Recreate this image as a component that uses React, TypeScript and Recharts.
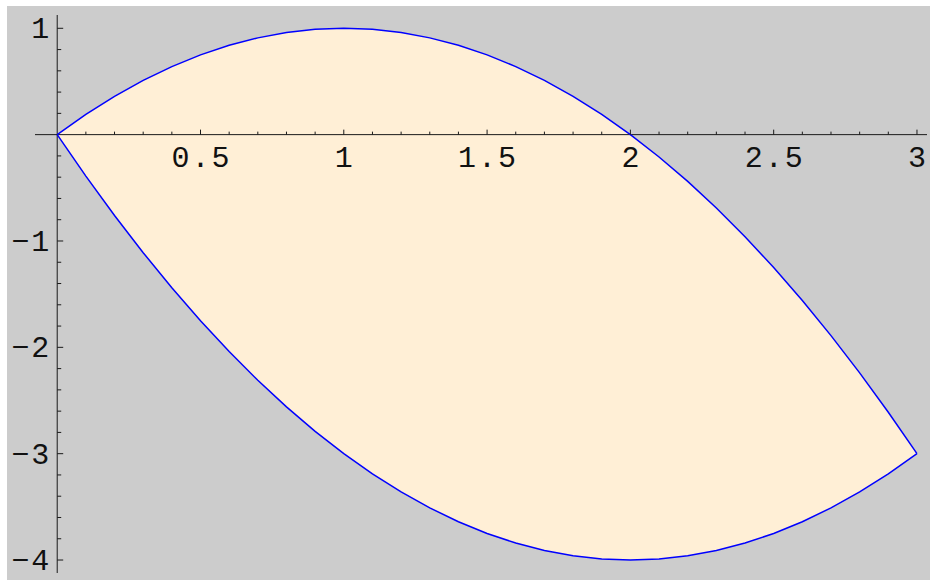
import React from "react";
import {
  ComposedChart,
  Area,
  Line,
  XAxis,
  YAxis,
  ReferenceLine,
  ReferenceDot,
} from "recharts";

// sample positions along x
const xs = [
  0, 0.1, 0.2, 0.3, 0.4, 0.5, 0.6, 0.7, 0.8, 0.9, 1, 1.1, 1.2, 1.3, 1.4, 1.5,
  1.6, 1.7, 1.8, 1.9, 2, 2.1, 2.2, 2.3, 2.4, 2.5, 2.6, 2.7, 2.8, 2.9, 3,
];
// upper curve values
const upperCurve = [
  0, 0.19, 0.36, 0.51, 0.64, 0.75, 0.84, 0.91, 0.96, 0.99, 1, 0.99, 0.96,
  0.91, 0.84, 0.75, 0.64, 0.51, 0.36, 0.19, 0, -0.21, -0.44, -0.69, -0.96,
  -1.25, -1.56, -1.89, -2.24, -2.61, -3,
];
// lower curve values
const lowerCurve = [
  0, -0.39, -0.76, -1.11, -1.44, -1.75, -2.04, -2.31, -2.56, -2.79, -3, -3.19,
  -3.36, -3.51, -3.64, -3.75, -3.84, -3.91, -3.96, -3.99, -4, -3.99, -3.96,
  -3.91, -3.84, -3.75, -3.64, -3.51, -3.36, -3.19, -3,
];

const xMajorTicks = [0.5, 1, 1.5, 2, 2.5, 3];
const xMajorLabels = ["0.5", "1", "1.5", "2", "2.5", "3"];
const xMinorTicks = [
  0.1, 0.2, 0.3, 0.4, 0.6, 0.7, 0.8, 0.9, 1.1, 1.2, 1.3, 1.4, 1.6, 1.7, 1.8,
  1.9, 2.1, 2.2, 2.3, 2.4, 2.6, 2.7, 2.8, 2.9,
];
const yMajorTicks = [1, -1, -2, -3, -4];
const yMajorLabels = ["1", "\u22121", "\u22122", "\u22123", "\u22124"];
const yMinorTicks = [
  0.8, 0.6, 0.4, 0.2, -0.2, -0.4, -0.6, -0.8, -1.2, -1.4, -1.6, -1.8, -2.2,
  -2.4, -2.6, -2.8, -3.2, -3.4, -3.6, -3.8,
];

const xDomain = [-0.0775, 3.035];
const yDomain = [-4.122, 1.125];

const data = xs.map((x, i) => ({
  x,
  upper: upperCurve[i],
  lower: lowerCurve[i],
  band: [lowerCurve[i], upperCurve[i]],
}));

const AXIS = "#1a1a1a";
const FONT = "'Liberation Mono', 'DejaVu Sans Mono', monospace";

const xMajorShape = (label: string) => (p: any) => (
  <g>
    <line x1={p.cx} y1={p.cy} x2={p.cx} y2={p.cy - 5} stroke={AXIS} strokeWidth={1} />
    <text
      x={p.cx + 1}
      y={p.cy + 32}
      textAnchor="middle"
      fontFamily={FONT}
      fontSize={30}
      letterSpacing={2}
      fill="#111"
    >
      {label}
    </text>
  </g>
);

const xMinorShape = (p: any) => (
  <line x1={p.cx} y1={p.cy} x2={p.cx} y2={p.cy - 3} stroke={AXIS} strokeWidth={1} />
);

const yMajorShape = (label: string) => (p: any) => (
  <g>
    <line x1={p.cx} y1={p.cy} x2={p.cx + 6} y2={p.cy} stroke={AXIS} strokeWidth={1} />
    <text
      x={p.cx - 6}
      y={p.cy + 10}
      textAnchor="end"
      fontFamily={FONT}
      fontSize={30}
      letterSpacing={2}
      fill="#111"
    >
      {label}
    </text>
  </g>
);

const yMinorShape = (p: any) => (
  <line x1={p.cx} y1={p.cy} x2={p.cx + 4} y2={p.cy} stroke={AXIS} strokeWidth={1} />
);

export default function App() {
  return (
    <div
      style={{
        position: "absolute",
        left: 7,
        top: 6,
        width: 923,
        height: 574,
        background: "#CCCCCC",
      }}
    >
      <ComposedChart
        width={923}
        height={574}
        data={data}
        margin={{ top: 9, right: 3, bottom: 7, left: 28 }}
      >
        <XAxis
          dataKey="x"
          type="number"
          domain={xDomain}
          allowDataOverflow
          hide
        />
        <YAxis type="number" domain={yDomain} allowDataOverflow hide />
        <Area
          dataKey="band"
          type="linear"
          fill="#FFEFD6"
          fillOpacity={1}
          stroke="none"
          isAnimationActive={false}
          activeDot={false}
        />
        <ReferenceLine y={0} stroke={AXIS} strokeWidth={1} />
        <ReferenceLine x={0} stroke={AXIS} strokeWidth={1} />
        {xMinorTicks.map((t) => (
          <ReferenceDot key={"xm" + t} x={t} y={0} shape={xMinorShape} />
        ))}
        {xMajorTicks.map((t, i) => (
          <ReferenceDot key={"xM" + t} x={t} y={0} shape={xMajorShape(xMajorLabels[i])} />
        ))}
        {yMinorTicks.map((t) => (
          <ReferenceDot key={"ym" + t} x={0} y={t} shape={yMinorShape} />
        ))}
        {yMajorTicks.map((t, i) => (
          <ReferenceDot key={"yM" + t} x={0} y={t} shape={yMajorShape(yMajorLabels[i])} />
        ))}
        <Line
          dataKey="upper"
          type="linear"
          stroke="#0000FF"
          strokeWidth={1.5}
          dot={false}
          activeDot={false}
          isAnimationActive={false}
        />
        <Line
          dataKey="lower"
          type="linear"
          stroke="#0000FF"
          strokeWidth={1.5}
          dot={false}
          activeDot={false}
          isAnimationActive={false}
        />
      </ComposedChart>
    </div>
  );
}
